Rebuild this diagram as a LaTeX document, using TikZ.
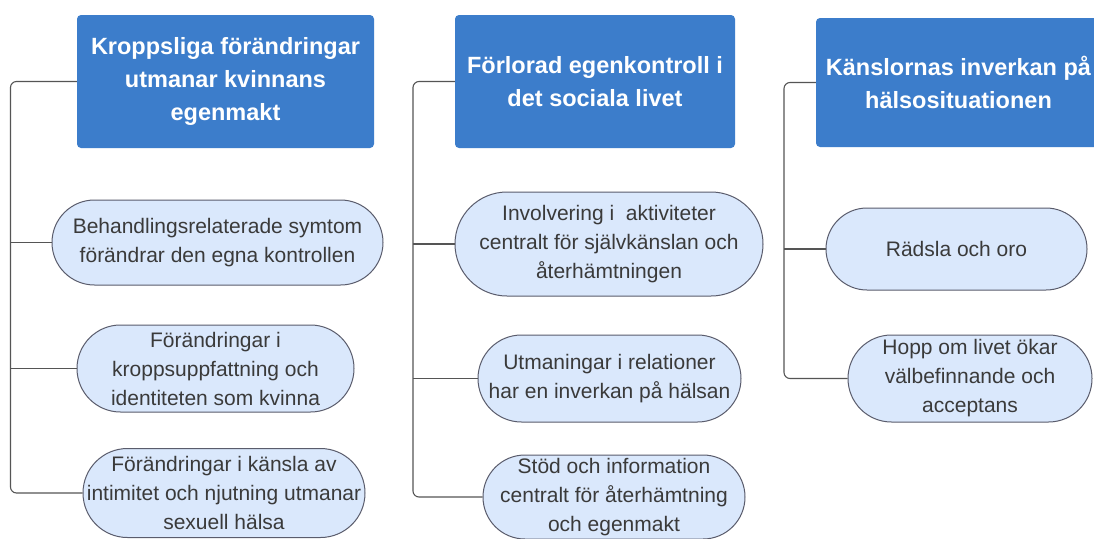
\documentclass[tikz,border=0pt]{standalone}
\usepackage{fontspec}
\setmainfont{Liberation Sans}
\usetikzlibrary{calc}
\definecolor{boxblue}{HTML}{3C7DCB}
\definecolor{pillfill}{HTML}{DAE8FC}
\definecolor{pillline}{HTML}{5A5C6C}
\definecolor{txtgray}{HTML}{3A3A3A}
\definecolor{connline}{HTML}{555555}
\tikzset{
  titlebox/.style={rectangle, rounded corners=4pt, fill=boxblue, draw=none,
    text=white, font=\fontsize{23.5}{33}\selectfont\bfseries, align=center,
    inner sep=0pt},
  pill/.style={rectangle, fill=pillfill, draw=pillline, line width=1pt,
    text=txtgray, font=\fontsize{21}{29}\selectfont, align=center, inner sep=0pt},
  conn/.style={draw=connline, line width=1.1pt, rounded corners=6pt},
}
\begin{document}
\begin{tikzpicture}[x=1pt,y=-1pt]
\useasboundingbox (0,0) rectangle (1094,538);
\clip (0,0) rectangle (1094,538);
\fill[white] (0,0) rectangle (1094,538);

% title boxes
\node[titlebox, minimum width=297pt, minimum height=133pt] (b1) at (225.5,81.5)
  {Kroppsliga förändringar\\utmanar kvinnans\\egenmakt};
\node[titlebox, minimum width=280pt, minimum height=133pt] (b2) at (595,81.5)
  {Förlorad egenkontroll i\\det sociala livet};
\node[titlebox, minimum width=285pt, minimum height=129pt] (b3) at (958.5,82.5)
  {Känslornas inverkan på\\hälsosituationen};

% column 1 pills
\node[pill, minimum width=331pt, minimum height=85pt, rounded corners=42.5pt] (p11) at (217.5,242.5)
  {Behandlingsrelaterade symtom\\förändrar den egna kontrollen};
\node[pill, minimum width=277pt, minimum height=87pt, rounded corners=43.5pt] (p12) at (215.5,368.5)
  {Förändringar i\\kroppsuppfattning och\\identiteten som kvinna};
\node[pill, minimum width=282pt, minimum height=89pt, rounded corners=44.5pt] (p13) at (224,493)
  {Förändringar i känsla av\\intimitet och njutning utmanar\\sexuell hälsa};

% column 2 pills
\node[pill, minimum width=308pt, minimum height=104pt, rounded corners=52pt] (p21) at (609,244)
  {Involvering i\ \ aktiviteter\\centralt för självkänslan och\\återhämtningen};
\node[pill, minimum width=263pt, minimum height=87pt, rounded corners=43.5pt] (p22) at (609.5,378.5)
  {Utmaningar i relationer\\har en inverkan på hälsan};
\node[pill, minimum width=262pt, minimum height=84pt, rounded corners=42pt] (p23) at (614,497)
  {Stöd och information\\centralt för återhämtning\\och egenmakt};

% column 3 pills
\node[pill, minimum width=261pt, minimum height=82pt, rounded corners=41pt] (p31) at (956.5,249)
  {Rädsla och oro};
\node[pill, minimum width=244pt, minimum height=87pt, rounded corners=43.5pt] (p32) at (970,378.5)
  {Hopp om livet ökar\\välbefinnande och\\acceptans};

% connector spines
\coordinate (s1) at (10.5,0);
\coordinate (s2) at (413,0);
\coordinate (s3) at (784,0);

% column 1 connectors
\draw[conn] (b1.west) -- (s1 |- b1.west) -- (s1 |- p13.west) -- (p13.west);
\draw[conn] (s1 |- p11.west) -- (p11.west);
\draw[conn] (s1 |- p12.west) -- (p12.west);

% column 2 connectors
\draw[conn] (b2.west) -- (s2 |- b2.west) -- (s2 |- p23.west) -- (p23.west);
\draw[conn] (s2 |- p21.west) -- (p21.west);
\draw[conn] (s2 |- p22.west) -- (p22.west);

% column 3 connectors
\draw[conn] (b3.west) -- (s3 |- b3.west) -- (s3 |- p32.west) -- (p32.west);
\draw[conn] (s3 |- p31.west) -- (p31.west);
\end{tikzpicture}
\end{document}
